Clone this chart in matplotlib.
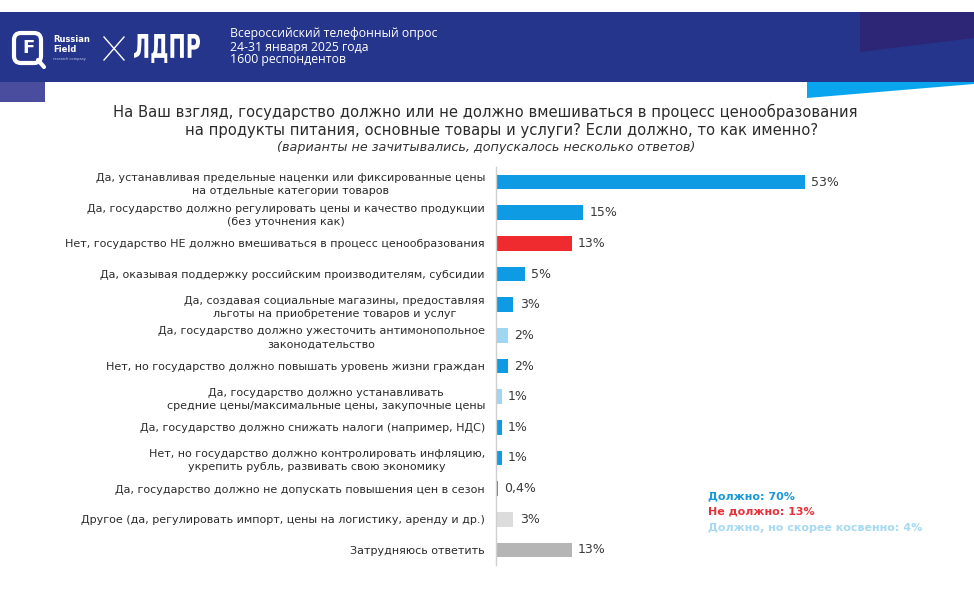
import matplotlib
matplotlib.use('Agg')
import matplotlib.pyplot as plt
from matplotlib.patches import Rectangle, Polygon, FancyBboxPatch, PathPatch
from matplotlib.textpath import TextPath
from matplotlib.font_manager import FontProperties
from matplotlib.transforms import Affine2D

# Survey data
answers = [
    'Да, устанавливая предельные наценки или фиксированные цены\nна отдельные категории товаров',
    'Да, государство должно регулировать цены и качество продукции\n(без уточнения как)',
    'Нет, государство НЕ должно вмешиваться в процесс ценообразования',
    'Да, оказывая поддержку российским производителям, субсидии',
    'Да, создавая социальные магазины, предоставляя\nльготы на приобретение товаров и услуг',
    'Да, государство должно ужесточить антимонопольное\nзаконодательство',
    'Нет, но государство должно повышать уровень жизни граждан',
    'Да, государство должно устанавливать\nсредние цены/максимальные цены, закупочные цены',
    'Да, государство должно снижать налоги (например, НДС)',
    'Нет, но государство должно контролировать инфляцию,\nукрепить рубль, развивать свою экономику',
    'Да, государство должно не допускать повышения цен в сезон',
    'Другое (да, регулировать импорт, цены на логистику, аренду и др.)',
    'Затрудняюсь ответить',
]
values = [53, 15, 13, 5, 3, 2, 2, 1, 1, 1, 0.4, 3, 13]
value_labels = ['53%', '15%', '13%', '5%', '3%', '2%', '2%', '1%', '1%', '1%', '0,4%', '3%', '13%']
groups = ['yes', 'yes', 'no', 'yes', 'yes', 'indirect', 'yes', 'indirect',
          'yes', 'yes', 'yes', 'other', 'dk']

summary_labels = ['Должно: 70%', 'Не должно: 13%', 'Должно, но скорее косвенно: 4%']
summary_groups = ['yes', 'no', 'indirect']

TITLE_LINES = ['На Ваш взгляд, государство должно или не должно вмешиваться в процесс ценообразования',
               'на продукты питания, основные товары и услуги? Если должно, то как именно?']
SUBTITLE = '(варианты не зачитывались, допускалось несколько ответов)'
HEADER_LINES = ['Всероссийский телефонный опрос', '24-31 января 2025 года', '1600 респондентов']

COLORS = {'yes': '#0f9be3', 'no': '#f02b30', 'indirect': '#9fd6f3',
          'other': '#dcdcdc', 'dk': '#b5b5b5'}
SUMMARY_COLORS = {'yes': '#1b98d8', 'no': '#e8323a', 'indirect': '#a6d9f2'}

W, H = 974, 591
PX_PER_PCT = 5.83

plt.rcParams['font.family'] = ['DejaVu Sans']

fig = plt.figure(figsize=(W / 100, H / 100), dpi=100)
fig.patch.set_facecolor('white')

# overlay in pixel coordinates for the slide decoration
bg = fig.add_axes([0, 0, 1, 1])
bg.set_xlim(0, W)
bg.set_ylim(H, 0)
bg.axis('off')

bg.add_patch(Rectangle((0, 12), W, 70, color='#25358c', lw=0))
bg.add_patch(Polygon([(860, 12), (W, 12), (W, 38), (860, 52)], closed=True, color='#2d2576', lw=0))
bg.add_patch(Polygon([(807, 82), (W, 82), (W, 84), (807, 98)], closed=True, color='#0aa5ef', lw=0))
bg.add_patch(Rectangle((0, 82), 45, 20, color='#4a4d9e', lw=0))

# logos
bg.add_patch(FancyBboxPatch((14, 33), 27, 30, boxstyle='round,pad=0,rounding_size=7',
                            fill=False, ec='white', lw=3))
bg.text(28, 48, 'F', color='white', fontsize=13, fontweight='bold', ha='center', va='center')
bg.plot([38, 44], [60, 67], color='white', lw=3, solid_capstyle='round')
bg.text(53, 39, 'Russian', color='white', fontsize=6, fontweight='bold', va='center')
bg.text(53, 50, 'Field', color='white', fontsize=6, fontweight='bold', va='center')
bg.text(53, 59, 'research company', color='#c8cbe6', fontsize=2.5, va='center')
bg.plot([104, 124], [37, 60], color='white', lw=1)
bg.plot([104, 124], [60, 37], color='white', lw=1)

# tall condensed party wordmark, stretched from a text path
tp = TextPath((0, 0), 'ЛДПР', size=1, prop=FontProperties(family='DejaVu Sans', weight='bold'))
bb = tp.get_extents()
stretch = Affine2D().translate(-bb.x0, -bb.y0).scale(66 / bb.width, -29 / bb.height).translate(134, 63)
bg.add_patch(PathPatch(stretch.transform_path(tp), color='white', lw=0))

for i, line in enumerate(HEADER_LINES):
    bg.text(230, 34 + i * 13, line, color='white', fontsize=8.8, va='center', family='Open Sans')

# title block
bg.text(485, 112, TITLE_LINES[0], color='#2b2b2b', fontsize=10.6, ha='center', va='center')
bg.text(502, 131, TITLE_LINES[1], color='#2b2b2b', fontsize=10.6, ha='center', va='center')
bg.text(486, 147, SUBTITLE, color='#333333', fontsize=9.2, ha='center', va='center',
        style='italic')

# bar chart
top_px, bot_px, left_px, width_px = 166.7, 565.3, 496, 420
ax = fig.add_axes([left_px / W, 1 - bot_px / H, width_px / W, (bot_px - top_px) / H])
ax.patch.set_alpha(0)

ypos = list(range(len(answers)))
ax.barh(ypos, values, height=0.48, color=[COLORS[g] for g in groups])
ax.set_xlim(0, width_px / PX_PER_PCT)
ax.set_ylim(len(answers) - 0.5, -0.5)

for y, v, lab in zip(ypos, values, value_labels):
    ax.annotate(lab, (v, y), xytext=(4.5, 0), textcoords='offset points',
                ha='left', va='center', fontsize=9, color='#3a3a3a')

ax.set_yticks(ypos)
ax.set_yticklabels(answers, fontsize=8.0, color='#2b2b2b', multialignment='center')
for lbl in ax.get_yticklabels():
    lbl.set_linespacing(1.4)
ax.tick_params(axis='y', length=0, pad=8)
ax.set_xticks([])
for side in ['top', 'right', 'bottom']:
    ax.spines[side].set_visible(False)
ax.spines['left'].set_color('#cfcfcf')
ax.spines['left'].set_linewidth(1)

for i, (lab, g) in enumerate(zip(summary_labels, summary_groups)):
    bg.text(708, 496 + i * 16, lab, color=SUMMARY_COLORS[g], fontsize=8.0,
            fontweight='bold', va='center')

fig.savefig('out.png', dpi=100)
